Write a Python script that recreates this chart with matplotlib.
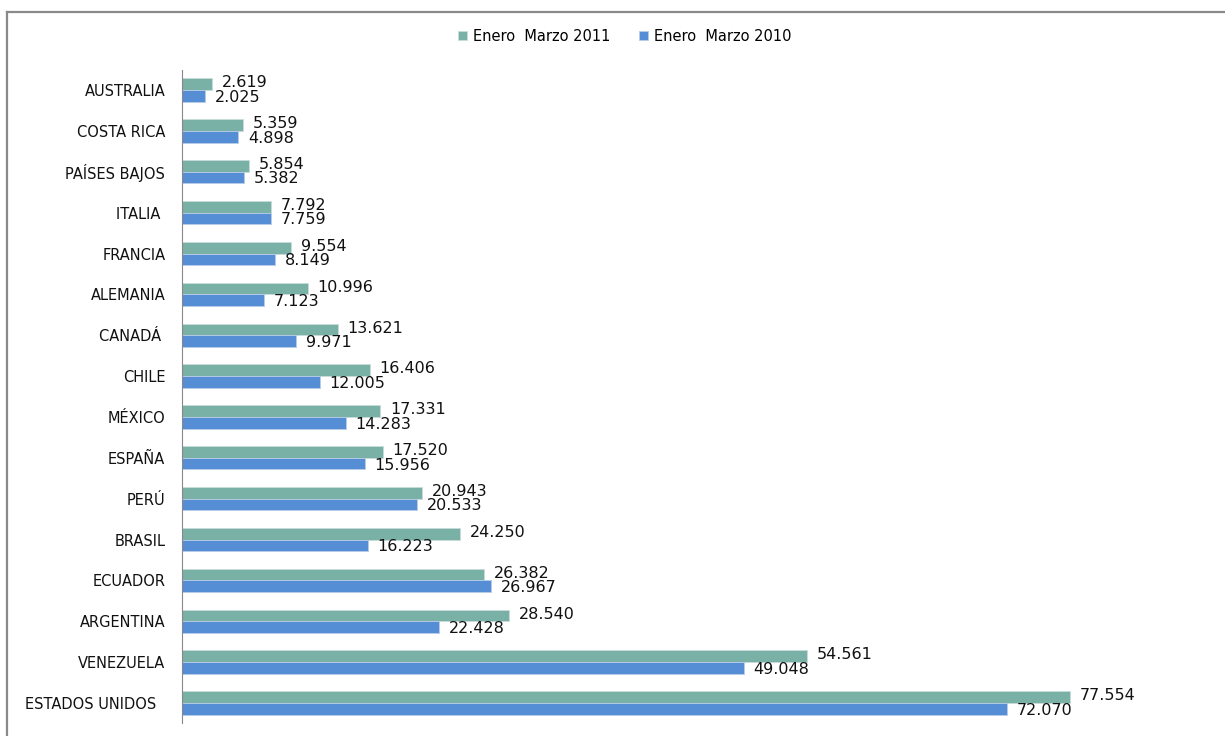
import numpy as np
import matplotlib.pyplot as plt
from matplotlib.lines import Line2D

# Exportaciones por país, enero-marzo (miles)
paises = ["AUSTRALIA", "COSTA RICA", "PAÍSES BAJOS", "ITALIA ", "FRANCIA", "ALEMANIA",
          "CANADÁ ", "CHILE", "MÉXICO", "ESPAÑA", "PERÚ", "BRASIL", "ECUADOR",
          "ARGENTINA", "VENEZUELA", "ESTADOS UNIDOS  "]
v2011 = [2.619, 5.359, 5.854, 7.792, 9.554, 10.996, 13.621, 16.406, 17.331, 17.520,
         20.943, 24.250, 26.382, 28.540, 54.561, 77.554]
v2010 = [2.025, 4.898, 5.382, 7.759, 8.149, 7.123, 9.971, 12.005, 14.283, 15.956,
         20.533, 16.223, 26.967, 22.428, 49.048, 72.070]

c2011 = "#7ab1a6"
c2010 = "#558ed5"

fig = plt.figure(figsize=(12.25, 7.36), dpi=100)
ax = fig.add_axes([0.1486, 0.0171, 0.831, 0.8883])

y = np.arange(len(paises))
h = 0.285
b1 = ax.barh(y - h / 2, v2011, height=h, color=c2011, edgecolor="#c8dcd8",
             linewidth=0.6, label="Enero  Marzo 2011")
b2 = ax.barh(y + h / 2, v2010, height=h, color=c2010, edgecolor="#b8cce8",
             linewidth=0.6, label="Enero  Marzo 2010")

def fmt(v):
    return f"{v:.3f}"

for bars, vals, dy in ((b1, v2011, 1), (b2, v2010, -1)):
    for rect, v in zip(bars, vals):
        ax.annotate(fmt(v), (rect.get_width(), rect.get_y() + rect.get_height() / 2),
                    xytext=(7, dy), textcoords="offset points", va="center", ha="left",
                    fontsize=11.5, color="#111111")

ax.set_xlim(0, 88.9)
ax.set_ylim(len(paises) - 0.5, -0.5)
ax.set_yticks(y)
ax.set_yticklabels(paises, fontsize=10.5, color="#111111")
ax.tick_params(axis="y", length=0, pad=12)
ax.set_xticks([])
for s in ("top", "right", "bottom"):
    ax.spines[s].set_visible(False)
ax.spines["left"].set_color("#888888")
ax.spines["left"].set_linewidth(0.8)

fig.legend(handles=[b1, b2], loc="center", bbox_to_anchor=(0.51, 0.951), ncol=2,
           frameon=False, fontsize=10.5, handlelength=0.6, handleheight=0.6,
           handletextpad=0.4, columnspacing=2.0)

# marco exterior (solo arriba e izquierda)
fig.add_artist(Line2D([7 / 1225, 1], [1 - 12 / 736, 1 - 12 / 736], color="#8a8a8a", lw=1.6))
fig.add_artist(Line2D([7 / 1225, 7 / 1225], [0, 1 - 12 / 736], color="#8a8a8a", lw=1.6))

fig.savefig("out.png", dpi=100)
